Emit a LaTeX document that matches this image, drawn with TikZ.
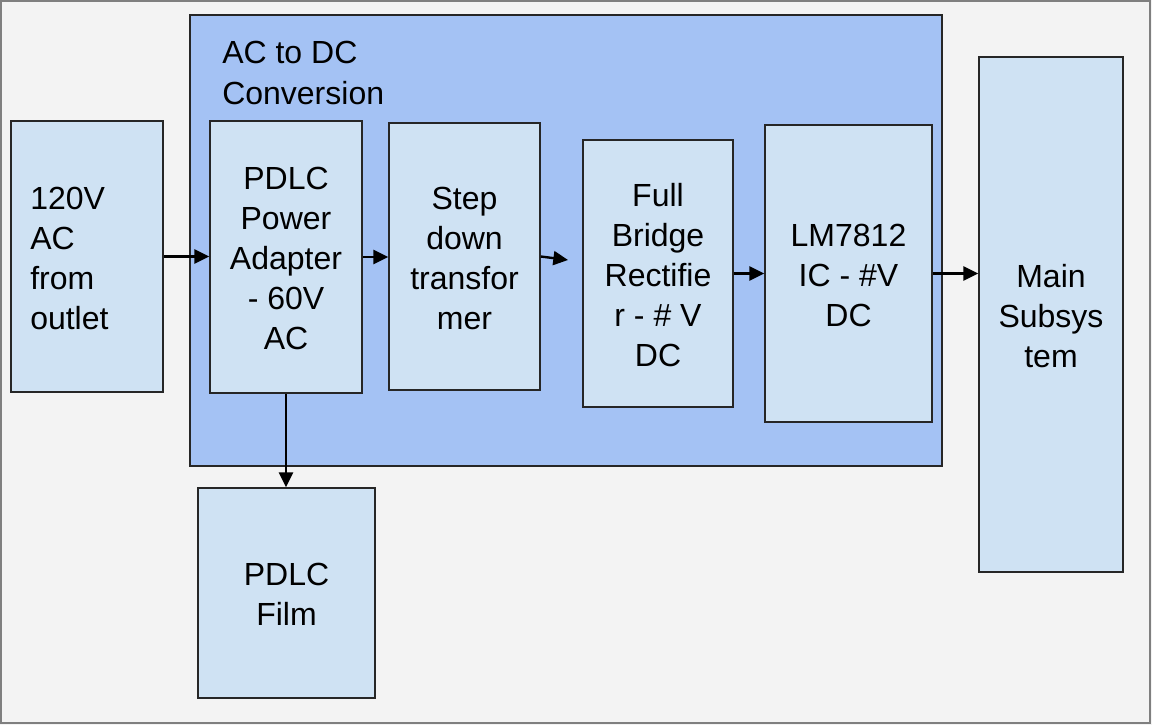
\documentclass[tikz,border=0pt]{standalone}
\usepackage{fontspec}
\setmainfont{Liberation Sans}
\usetikzlibrary{fit,arrows.meta}
\definecolor{bgc}{HTML}{F3F3F3}
\definecolor{contc}{HTML}{A4C2F4}
\definecolor{boxc}{HTML}{CFE2F3}
\definecolor{framec}{HTML}{7F7F7F}
\begin{document}
\begin{tikzpicture}[x=0.75pt,y=-0.75pt,
  blockbox/.style={draw=black!85, line width=1.3pt, fill=boxc, inner sep=0pt},
  blocktext/.style={inner sep=0pt, align=center, yshift=-1.2pt, font=\fontsize{24}{30}\selectfont},
  contbox/.style={draw=black!85, line width=1.3pt, fill=contc, inner sep=0pt},
  flow/.style={line width=1.8pt, -{Triangle[length=11pt,width=10.5pt]}}]
\useasboundingbox (0,0) rectangle (1152,725);
\fill[bgc] (0,0) rectangle (1152,725);
\draw[framec, line width=1.4pt] (1,1) rectangle (1150,723);
\node[contbox, fit={(190,15) (942,466)}] (conv) {};
\node[anchor=base west, align=left, inner sep=0pt, font=\fontsize{24}{30.5}\selectfont] (convlabel) at (222,104) {AC to DC\\Conversion};
\node[blockbox, fit={(11,121) (163,392)}] (in) {};
\node[blockbox, fit={(210,121) (362,393)}] (adapter) {};
\node[blockbox, fit={(389,123) (540,390)}] (step) {};
\node[blockbox, fit={(583,140) (733,407)}] (bridge) {};
\node[blockbox, fit={(765,125) (932,422)}] (lm) {};
\node[blockbox, fit={(979,57) (1123,572)}] (main) {};
\node[blockbox, fit={(198,488) (375,698)}] (film) {};
\node[blocktext, align=left, anchor=west] (in-t) at (30,256.5) {120V\\AC\\from\\outlet};
\node[blocktext] (adapter-t) at (adapter.center) {PDLC\\Power\\Adapter\\- 60V\\AC};
\node[blocktext] (step-t) at (step.center) {Step\\down\\transfor\\mer};
\node[blocktext] (bridge-t) at (bridge.center) {Full\\Bridge\\Rectifie\\r - \# V\\DC};
\node[blocktext] (lm-t) at (lm.center) {LM7812\\IC - \#V\\DC};
\node[blocktext] (main-t) at (main.center) {Main\\Subsys\\tem};
\node[blocktext] (film-t) at (film.center) {PDLC\\Film};
\coordinate (stepend) at (568,260);
\draw[flow] (in.east) -- (in.east -| adapter.west);
\draw[flow] (adapter.east) -- (adapter.east -| step.west);
\draw[flow] (step.east) -- (stepend);
\draw[flow] (bridge.east) -- (bridge.east -| lm.west);
\draw[flow] (lm.east) -- (lm.east -| main.west);
\draw[flow] (adapter.south) -- (adapter.south |- film.north);
\end{tikzpicture}
\end{document}
